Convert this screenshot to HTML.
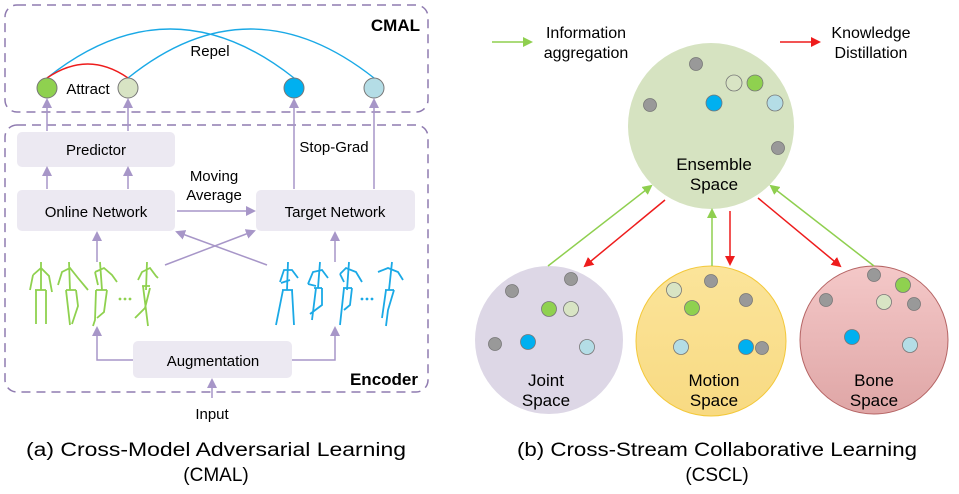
<!DOCTYPE html>
<html><head><meta charset="utf-8"><style>
html,body{margin:0;padding:0;background:#fff;}
svg{display:block;font-family:"Liberation Sans",sans-serif;}
</style></head><body>
<svg width="959" height="494" viewBox="0 0 959 494" xmlns="http://www.w3.org/2000/svg">
<defs>
<marker id="pa" markerWidth="10" markerHeight="10" refX="8" refY="5" orient="auto" markerUnits="userSpaceOnUse"><path d="M0,0 L10,5 L0,10 z" fill="#a796c8"/></marker>
<marker id="ga" markerWidth="10" markerHeight="10" refX="8" refY="5" orient="auto" markerUnits="userSpaceOnUse"><path d="M0,0 L10,5 L0,10 z" fill="#8fcf4f"/></marker>
<marker id="ra" markerWidth="10" markerHeight="10" refX="8" refY="5" orient="auto" markerUnits="userSpaceOnUse"><path d="M0,0 L10,5 L0,10 z" fill="#ee1c1c"/></marker>
<linearGradient id="bg" x1="0" y1="0" x2="0" y2="1"><stop offset="0" stop-color="#f4c8c8"/><stop offset="1" stop-color="#dfa6a6"/></linearGradient>
<linearGradient id="mg" x1="0" y1="0" x2="0" y2="1"><stop offset="0" stop-color="#fbe49a"/><stop offset="1" stop-color="#f8da82"/></linearGradient>
</defs>

<!-- Left panel -->
<rect x="5" y="5" width="423" height="107" rx="12" fill="none" stroke="#8f7bb0" stroke-width="1.5" stroke-dasharray="9,6"/>
<rect x="5" y="125" width="423" height="267" rx="12" fill="none" stroke="#8f7bb0" stroke-width="1.5" stroke-dasharray="9,6"/>
<text x="420" y="31" font-size="17" font-weight="bold" text-anchor="end">CMAL</text>
<text x="418" y="385" font-size="17" font-weight="bold" text-anchor="end">Encoder</text>

<path d="M47,78 Q170,-20 294,78" fill="none" stroke="#1aa9e6" stroke-width="1.4"/>
<path d="M128,78 Q250,-20 374,78" fill="none" stroke="#1aa9e6" stroke-width="1.4"/>
<path d="M47,78 Q88,50 128,78" fill="none" stroke="#ee1c1c" stroke-width="1.5"/>
<text x="210" y="56" font-size="15" text-anchor="middle">Repel</text>
<text x="88" y="94" font-size="15" text-anchor="middle">Attract</text>
<circle cx="47" cy="88" r="10" fill="#8fd14f" stroke="#777"/>
<circle cx="128" cy="88" r="10" fill="#d8e4c4" stroke="#777"/>
<circle cx="294" cy="88" r="10" fill="#00b0f0" stroke="#777"/>
<circle cx="374" cy="88" r="10" fill="#b4dde6" stroke="#777"/>

<g fill="#ece9f2">
<rect x="17" y="132" width="158" height="35" rx="5"/>
<rect x="17" y="190" width="158" height="41" rx="5"/>
<rect x="256" y="190" width="159" height="41" rx="5"/>
<rect x="133" y="341" width="159" height="37" rx="5"/>
</g>
<g font-size="15" text-anchor="middle">
<text x="96" y="155">Predictor</text>
<text x="96" y="217">Online Network</text>
<text x="335" y="217">Target Network</text>
<text x="213" y="366">Augmentation</text>
<text x="214" y="181">Moving</text>
<text x="214" y="200">Average</text>
<text x="334" y="152">Stop-Grad</text>
<text x="212" y="419">Input</text>
</g>
<g stroke="#a796c8" stroke-width="1.5" fill="none" marker-end="url(#pa)">
<line x1="47" y1="131" x2="47" y2="100"/>
<line x1="128" y1="131" x2="128" y2="100"/>
<line x1="294" y1="189" x2="294" y2="100"/>
<line x1="374" y1="189" x2="374" y2="100"/>
<line x1="47" y1="189" x2="47" y2="168"/>
<line x1="128" y1="189" x2="128" y2="168"/>
<line x1="177" y1="211" x2="254" y2="211"/>
<line x1="97" y1="262" x2="97" y2="233"/>
<line x1="335" y1="262" x2="335" y2="233"/>
<line x1="165" y1="265" x2="254" y2="231"/>
<line x1="267" y1="265" x2="177" y2="232"/>
<polyline points="133,360 97,360 97,328"/>
<polyline points="292,360 335,360 335,328"/>
<line x1="212" y1="398" x2="212" y2="380"/>
</g>
<!-- stick figures -->
<g stroke="#8fd14f" stroke-width="1.8" fill="none">
<path d="M41,262 V290 M33,275 L41,268 L49,276 L52,292 M33,275 L30,290 M35,290 H46 M36,290 V324 M46,290 V324"/>
<path d="M69,262 L70,290 M58,285 L62,272 L70,268 L78,278 L88,290 M66,290 H76 M66,290 L70,325 M76,290 L78,306 L72,324"/>
<path d="M100,262 L102,290 M95,272 L104,268 L112,275 L117,282 M95,272 L98,285 M96,290 H107 M96,290 L95,320 L93,326 M107,290 L104,312 L97,318"/>
<path d="M147,262 L146,290 M138,280 L142,272 L150,268 L156,276 L158,278 M142,286 H150 M143,286 L148,326 M150,288 L145,308 L135,318"/>
</g>
<g fill="#8fd14f"><circle cx="120" cy="299" r="1.4"/><circle cx="125" cy="299" r="1.4"/><circle cx="130" cy="299" r="1.4"/></g>
<g stroke="#1aa9e6" stroke-width="1.8" fill="none">
<path d="M288,262 L287,290 M280,282 L284,270 L292,270 L298,278 M281,283 L290,280 M282,290 H293 M283,290 L276,325 M292,290 L294,325"/>
<path d="M320,262 L318,288 M308,284 L313,272 L322,270 L328,278 M308,284 L316,286 M314,288 H322 M316,288 L312,320 M322,288 L322,305 L310,314"/>
<path d="M349,262 L347,290 M340,274 L346,268 L356,272 L362,282 M340,274 L344,282 M343,288 H352 M344,288 L340,325 M352,288 L350,305 L344,310"/>
<path d="M392,262 L389,290 M378,272 L388,268 L398,272 L403,280 M385,290 H394 M386,290 L382,318 M394,290 L388,310 L386,326"/>
</g>
<g fill="#1aa9e6"><circle cx="362" cy="299" r="1.4"/><circle cx="367" cy="299" r="1.4"/><circle cx="372" cy="299" r="1.4"/></g>

<text x="216" y="456" font-size="19" text-anchor="middle" textLength="380" lengthAdjust="spacingAndGlyphs">(a) Cross-Model Adversarial Learning</text>
<text x="216" y="481" font-size="19" text-anchor="middle">(CMAL)</text>

<!-- Right panel -->
<line x1="492" y1="42" x2="531" y2="42" stroke="#8fcf4f" stroke-width="1.5" marker-end="url(#ga)"/>
<text x="586" y="38" font-size="16" text-anchor="middle">Information</text>
<text x="586" y="58" font-size="16" text-anchor="middle">aggregation</text>
<line x1="780" y1="42" x2="819" y2="42" stroke="#ee1c1c" stroke-width="1.5" marker-end="url(#ra)"/>
<text x="871" y="38" font-size="16" text-anchor="middle">Knowledge</text>
<text x="871" y="58" font-size="16" text-anchor="middle">Distillation</text>

<circle cx="711" cy="126" r="83" fill="#d6e3c1"/>
<circle cx="549" cy="340" r="74" fill="#ddd7e6"/>
<circle cx="711" cy="341" r="75" fill="url(#mg)" stroke="#f3c83a" stroke-width="1"/>
<circle cx="874" cy="340" r="74" fill="url(#bg)" stroke="#b56464" stroke-width="1"/>

<g font-size="17" text-anchor="middle">
<text x="714" y="170">Ensemble</text><text x="714" y="190">Space</text>
<text x="546" y="386">Joint</text><text x="546" y="406">Space</text>
<text x="714" y="386">Motion</text><text x="714" y="406">Space</text>
<text x="874" y="386">Bone</text><text x="874" y="406">Space</text>
</g>

<g stroke-width="1.5">
<line x1="548" y1="266" x2="651" y2="186" stroke="#8fcf4f" marker-end="url(#ga)"/>
<line x1="665" y1="200" x2="585" y2="266" stroke="#ee1c1c" marker-end="url(#ra)"/>
<line x1="712" y1="266" x2="712" y2="210" stroke="#8fcf4f" marker-end="url(#ga)"/>
<line x1="730" y1="211" x2="730" y2="264" stroke="#ee1c1c" marker-end="url(#ra)"/>
<line x1="758" y1="198" x2="840" y2="266" stroke="#ee1c1c" marker-end="url(#ra)"/>
<line x1="874" y1="266" x2="771" y2="186" stroke="#8fcf4f" marker-end="url(#ga)"/>
</g>

<g stroke="#777" stroke-width="0.8">
<g fill="#999">
<circle cx="696" cy="64" r="6.5"/><circle cx="650" cy="105" r="6.5"/><circle cx="778" cy="148" r="6.5"/>
<circle cx="512" cy="291" r="6.5"/><circle cx="571" cy="279" r="6.5"/><circle cx="495" cy="344" r="6.5"/>
<circle cx="711" cy="281" r="6.5"/><circle cx="746" cy="300" r="6.5"/><circle cx="762" cy="348" r="6.5"/>
<circle cx="874" cy="275" r="6.5"/><circle cx="826" cy="300" r="6.5"/><circle cx="914" cy="304" r="6.5"/>
</g>
<g fill="#d8e4c4"><circle cx="734" cy="83" r="8"/><circle cx="571" cy="309" r="7.5"/><circle cx="674" cy="290" r="7.5"/><circle cx="884" cy="302" r="7.5"/></g>
<g fill="#8fd14f"><circle cx="755" cy="83" r="8"/><circle cx="549" cy="309" r="7.5"/><circle cx="692" cy="308" r="7.5"/><circle cx="903" cy="285" r="7.5"/></g>
<g fill="#00b0f0"><circle cx="714" cy="103" r="8"/><circle cx="528" cy="342" r="7.5"/><circle cx="746" cy="347" r="7.5"/><circle cx="852" cy="337" r="7.5"/></g>
<g fill="#b4dde6"><circle cx="775" cy="103" r="8"/><circle cx="587" cy="347" r="7.5"/><circle cx="681" cy="347" r="7.5"/><circle cx="910" cy="345" r="7.5"/></g>
</g>

<text x="717" y="456" font-size="19" text-anchor="middle" textLength="400" lengthAdjust="spacingAndGlyphs">(b) Cross-Stream Collaborative Learning</text>
<text x="717" y="481" font-size="19" text-anchor="middle">(CSCL)</text>
</svg>
</body></html>
